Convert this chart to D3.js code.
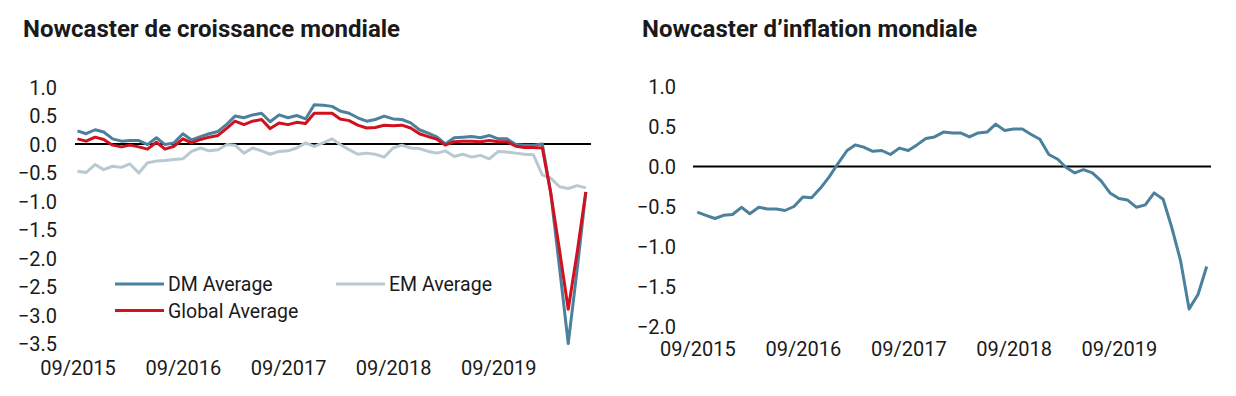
<!DOCTYPE html>
<html>
<head>
<meta charset="utf-8">
<script src="https://cdn.jsdelivr.net/npm/d3@7"></script>
<style>
  body { margin: 0; background: #fff; }
  svg text { font-family: Roboto, "Noto Sans", sans-serif; fill: #1a1a1a; }
  .title { font-size: 24px; font-weight: bold; }
  .tick-label { font-size: 20px; }
  .legend-label { font-size: 19.5px; }
</style>
</head>
<body>
<svg id="chart" width="1236" height="396"></svg>
<script>
// monthly points, 09/2015 -> 07/2020
var start_month = new Date(2015, 8, 1);
var n_months = 59;

var dm_average = [
  0.23, 0.18, 0.25, 0.21, 0.09, 0.05, 0.06, 0.06, -0.01, 0.11,
  -0.01, 0.02, 0.18, 0.07, 0.13, 0.18, 0.22, 0.35, 0.49, 0.46,
  0.51, 0.54, 0.39, 0.51, 0.46, 0.50, 0.44, 0.69, 0.68, 0.66,
  0.58, 0.54, 0.46, 0.40, 0.43, 0.49, 0.44, 0.43, 0.37, 0.25,
  0.19, 0.12, 0.00, 0.11, 0.12, 0.13, 0.11, 0.15, 0.09, 0.09,
  -0.01, -0.02, -0.02, 0.00, -0.85, -2.18, -3.50, -2.20, -0.85
];
var em_average = [
  -0.48, -0.50, -0.36, -0.45, -0.39, -0.41, -0.35, -0.51, -0.33, -0.30,
  -0.29, -0.27, -0.26, -0.13, -0.07, -0.12, -0.10, -0.01, -0.02, -0.16,
  -0.07, -0.12, -0.18, -0.13, -0.12, -0.07, 0.02, -0.04, 0.02, 0.09,
  -0.01, -0.10, -0.18, -0.16, -0.18, -0.23, -0.07, -0.02, -0.07, -0.08,
  -0.13, -0.16, -0.12, -0.22, -0.18, -0.23, -0.20, -0.26, -0.13, -0.14,
  -0.16, -0.18, -0.19, -0.54, -0.60, -0.75, -0.78, -0.73, -0.77
];
var global_average = [
  0.09, 0.05, 0.12, 0.08, -0.02, -0.05, -0.02, -0.05, -0.09, 0.03,
  -0.09, -0.04, 0.09, 0.02, 0.08, 0.12, 0.15, 0.28, 0.40, 0.34,
  0.40, 0.43, 0.27, 0.37, 0.34, 0.38, 0.36, 0.54, 0.54, 0.54,
  0.44, 0.41, 0.33, 0.28, 0.29, 0.33, 0.32, 0.33, 0.28, 0.18,
  0.13, 0.08, -0.02, 0.04, 0.05, 0.05, 0.04, 0.06, 0.04, 0.04,
  -0.04, -0.06, -0.06, -0.07, -0.85, -1.87, -2.90, -1.90, -0.84
];
var inflation = [
  -0.57, -0.61, -0.65, -0.61, -0.60, -0.51, -0.59, -0.51, -0.53, -0.53,
  -0.55, -0.50, -0.38, -0.39, -0.27, -0.13, 0.04, 0.20, 0.27, 0.24,
  0.19, 0.20, 0.15, 0.23, 0.20, 0.27, 0.35, 0.37, 0.43, 0.42,
  0.42, 0.37, 0.42, 0.43, 0.53, 0.45, 0.47, 0.47, 0.40, 0.34,
  0.15, 0.09, -0.01, -0.08, -0.04, -0.08, -0.18, -0.33, -0.40, -0.42,
  -0.51, -0.48, -0.33, -0.41, -0.75, -1.17, -1.78, -1.60, -1.25
];

var growth_ticks = [1.0, 0.5, 0.0, -0.5, -1.0, -1.5, -2.0, -2.5, -3.0, -3.5];
var inflation_ticks = [1.0, 0.5, 0.0, -0.5, -1.0, -1.5, -2.0];
var x_tick_years = [2015, 2016, 2017, 2018, 2019];

var colors = {dm: "#4b819d", em: "#b7c9d1", global: "#d2111e"};

var months = d3.range(n_months).map(function(i) { return d3.timeMonth.offset(start_month, i); });
var last_month = months[months.length - 1];
var x_ticks = x_tick_years.map(function(y) { return new Date(y, 8, 1); });
var fmt = d3.timeFormat("%m/%Y");

var svg = d3.select("#chart");

function draw_panel(opt) {
  var g = svg.append("g");

  g.append("text").attr("class", "title")
    .attr("x", opt.title_x).attr("y", 37)
    .text(opt.title);

  var x = d3.scaleTime().domain([start_month, last_month]).range(opt.x_range);
  var y = d3.scaleLinear().domain(opt.y_domain).range(opt.y_range);

  // y tick labels, no axis line
  var y_axis = g.append("g")
    .attr("transform", "translate(" + opt.y_label_x + ",0)")
    .call(d3.axisLeft(y).tickValues(opt.y_ticks).tickSize(0).tickPadding(0)
      .tickFormat(d3.format(".1f")));
  y_axis.select(".domain").remove();
  y_axis.attr("font-size", null).attr("font-family", null);
  y_axis.selectAll("text").attr("class", "tick-label").attr("fill", "#1a1a1a").attr("dy", "0.36em");

  // x tick labels, y is the baseline
  var x_axis = g.append("g")
    .attr("transform", "translate(0," + opt.x_label_y + ")")
    .call(d3.axisBottom(x).tickValues(x_ticks).tickSize(0).tickPadding(0).tickFormat(fmt));
  x_axis.select(".domain").remove();
  x_axis.attr("font-size", null).attr("font-family", null);
  x_axis.selectAll("text").attr("class", "tick-label").attr("dy", null).attr("fill", "#1a1a1a");

  // zero line
  g.append("line")
    .attr("x1", opt.zero_x[0]).attr("x2", opt.zero_x[1])
    .attr("y1", y(0)).attr("y2", y(0))
    .attr("stroke", "#000").attr("stroke-width", 2);

  var line = d3.line()
    .x(function(d, i) { return x(months[i]); })
    .y(function(d) { return y(d); });

  opt.series.forEach(function(s) {
    g.append("path").datum(s.values)
      .attr("d", line)
      .attr("fill", "none")
      .attr("stroke", s.color)
      .attr("stroke-width", 3)
      .attr("stroke-linejoin", "round");
  });

  return g;
}

var left = draw_panel({
  title: "Nowcaster de croissance mondiale",
  title_x: 23,
  x_range: [77.5, 585.8],
  y_domain: [-3.5, 1.0],
  y_range: [343.5, 87],
  y_ticks: growth_ticks,
  y_label_x: 57,
  x_label_y: 375,
  zero_x: [75, 591],
  series: [
    {values: em_average, color: colors.em},
    {values: dm_average, color: colors.dm},
    {values: global_average, color: colors.global}
  ]
});

draw_panel({
  title: "Nowcaster d\u2019inflation mondiale",
  title_x: 642,
  x_range: [697.3, 1206.7],
  y_domain: [-2.0, 1.0],
  y_range: [326.5, 86.5],
  y_ticks: inflation_ticks,
  y_label_x: 676,
  x_label_y: 356,
  zero_x: [693, 1211],
  series: [
    {values: inflation, color: colors.dm}
  ]
});

// legend of the growth panel
var legend = [
  {name: "DM Average", color: colors.dm, x: 115, y: 284},
  {name: "EM Average", color: colors.em, x: 336, y: 284},
  {name: "Global Average", color: colors.global, x: 115, y: 310.5}
];
var leg = left.selectAll(".legend").data(legend).enter().append("g")
  .attr("class", "legend")
  .attr("transform", function(d) { return "translate(" + d.x + "," + d.y + ")"; });
leg.append("line").attr("x1", 0).attr("x2", 49).attr("y1", 0).attr("y2", 0)
  .attr("stroke", function(d) { return d.color; }).attr("stroke-width", 3);
leg.append("text").attr("class", "legend-label")
  .attr("x", 53).attr("y", 7)
  .text(function(d) { return d.name; });
</script>
</body>
</html>
